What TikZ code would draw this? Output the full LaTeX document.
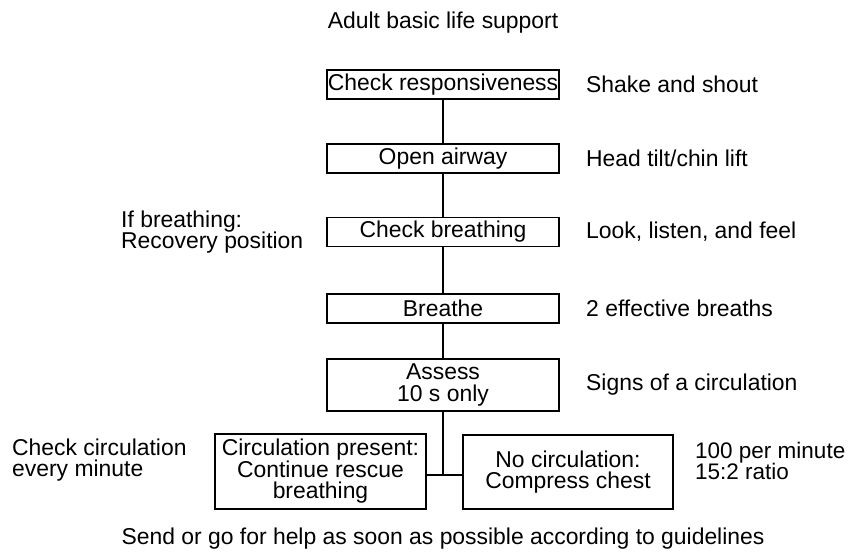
\documentclass[tikz,border=0pt]{standalone}
\usepackage{fontspec}
\setmainfont{Liberation Sans}
\begin{document}
\begin{tikzpicture}[x=1pt,y=-1pt,
  every node/.style={font=\fontsize{22.9pt}{21.5pt}\selectfont, inner sep=0pt},
  stepbox/.style={draw, line width=1.4pt, align=center, minimum width=232pt, minimum height=29pt},
  note/.style={anchor=west, align=left},
  link/.style={line width=1.4pt}]
\fill[white] (0,0) rectangle (850,551);
\useasboundingbox (0,0) rectangle (850,551);

\node (title) at (443,23) {Adult basic life support};

\node[stepbox] (resp) at (443,84.5) {Check responsiveness};
\node[stepbox] (airway) at (443,158.5) {Open airway};
\node[stepbox] (breath) at (443,232) {Check breathing};
\node[stepbox] (breathe) at (443,308.5) {Breathe};
\node[stepbox, minimum height=52pt] (assess) at (443,385) {Assess\\10 s only};
\node[stepbox, minimum width=211pt, minimum height=75pt] (present) at (320.5,471.5) {Circulation present:\\Continue rescue\\breathing};
\node[stepbox, minimum width=210pt, minimum height=74pt] (nocirc) at (568,472) {No circulation:\\Compress chest};

\coordinate (j) at (443,475);
\draw[link] (resp) -- (airway);
\draw[link] (airway) -- (breath);
\draw[link] (breath) -- (breathe);
\draw[link] (breathe) -- (assess);
\draw[link] (assess) -- (j);
\draw[link] (present.east |- j) -- (nocirc.west |- j);

\node[note] (n1) at (586,84.5) {Shake and shout};
\node[note] (n2) at (586,158.5) {Head tilt/chin lift};
\node[note] (n3) at (586,232) {Look, listen, and feel};
\node[note] (n4) at (586,308.5) {2 effective breaths};
\node[note] (n5) at (586,385) {Signs of a circulation};
\node[note, font=\fontsize{22.5pt}{21.5pt}\selectfont] (n6) at (695,461) {100 per minute\\15:2 ratio};
\node[note] (l1) at (121,232) {If breathing:\\Recovery position};
\node[note] (l2) at (12,460) {Check circulation\\every minute};

\node (foot) at (443,539) {Send or go for help as soon as possible according to guidelines};
\end{tikzpicture}
\end{document}
